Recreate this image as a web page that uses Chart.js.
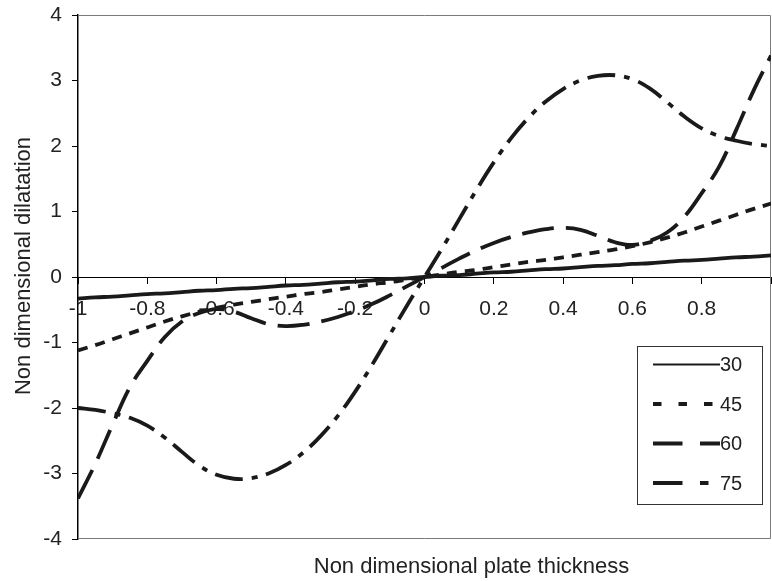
<!DOCTYPE html>
<html><head><meta charset="utf-8">
<script src="https://cdn.jsdelivr.net/npm/chart.js@4.4.1/dist/chart.umd.min.js"></script>
<style>html,body{margin:0;padding:0;background:#fff;overflow:hidden}#wrap{width:772px;height:581px;position:relative}</style>
</head><body><div id="wrap"><canvas id="c" width="772" height="581"></canvas></div>
<script>
// ---- data ----
const xValues = [-1,-0.95,-0.9,-0.85,-0.8,-0.75,-0.7,-0.65,-0.6,-0.55,-0.5,-0.45,-0.4,-0.35,-0.3,-0.25,-0.2,-0.15,-0.1,-0.05,0,
  0.05,0.1,0.15,0.2,0.25,0.3,0.35,0.4,0.45,0.5,0.55,0.6,0.65,0.7,0.75,0.8,0.85,0.9,0.95,1];
const seriesLabels = ['30','45','60','75'];
const s30 = [-0.33,-0.31,-0.30,-0.28,-0.26,-0.25,-0.23,-0.21,-0.20,-0.18,-0.17,-0.15,-0.13,-0.12,-0.10,-0.08,-0.07,-0.05,-0.03,-0.02,0,
  0.02,0.03,0.05,0.07,0.08,0.10,0.12,0.13,0.15,0.17,0.18,0.20,0.21,0.23,0.25,0.26,0.28,0.30,0.31,0.33];
const s45 = [-1.12,-1.04,-0.95,-0.86,-0.77,-0.68,-0.60,-0.53,-0.47,-0.42,-0.38,-0.34,-0.30,-0.26,-0.23,-0.19,-0.15,-0.11,-0.08,-0.04,0,
  0.04,0.08,0.11,0.15,0.19,0.23,0.26,0.30,0.34,0.38,0.42,0.47,0.53,0.60,0.68,0.77,0.86,0.95,1.04,1.12];
const s60 = [-3.38,-2.85,-2.25,-1.68,-1.28,-0.92,-0.68,-0.55,-0.49,-0.53,-0.63,-0.72,-0.75,-0.73,-0.68,-0.61,-0.52,-0.41,-0.28,-0.14,0,
  0.14,0.28,0.41,0.52,0.61,0.68,0.73,0.75,0.72,0.63,0.53,0.49,0.55,0.68,0.92,1.28,1.68,2.25,2.85,3.38];
const s75 = [-2.0,-2.03,-2.08,-2.15,-2.27,-2.45,-2.67,-2.88,-3.02,-3.08,-3.07,-3.0,-2.87,-2.68,-2.43,-2.12,-1.75,-1.33,-0.88,-0.43,0,
  0.43,0.88,1.33,1.75,2.12,2.43,2.68,2.87,3.0,3.07,3.08,3.02,2.88,2.67,2.45,2.27,2.15,2.08,2.03,2.0];
const xTickValues = [-1,-0.8,-0.6,-0.4,-0.2,0,0.2,0.4,0.6,0.8,1];
const xTickLabels = ['-1','-0.8','-0.6','-0.4','-0.2','0','0.2','0.4','0.6','0.8',''];
const yTickValues = [-4,-3,-2,-1,0,1,2,3,4];
const yTickLabels = ['-4','-3','-2','-1','0','1','2','3','4'];
const xTitle = 'Non dimensional plate thickness';
const yTitle = 'Non dimensional dilatation';

// ---- styles ----
const FONT = "'Liberation Sans', Arial, sans-serif";
const TXT = '#222';
const LINE = '#1a1a1a';
const chartDashes = [[], [10, 8], [32, 12], [28, 9, 6, 9]];
const legendDashes = [[], [8.5, 17], [29.5, 17.5], [29.5, 17.5, 8.5, 17.5]];
const legendWidths = [2, 4, 4, 4];
const allSeries = [s30, s45, s60, s75];

const datasets = allSeries.map((s, i) => ({
  label: seriesLabels[i],
  data: xValues.map((x, k) => ({x: x, y: s[k]})),
  borderColor: LINE,
  borderWidth: 3.8,
  borderDash: chartDashes[i],
  pointRadius: 0,
  tension: 0.4,
  fill: false,
  xAxisID: 'x',
  yAxisID: 'y'
}));

const framePlugin = {
  id: 'frame',
  afterLayout(chart) {
    // move the title-only scales so their titles sit where the reference has them
    const a = chart.chartArea;
    const t = chart.scales.x2;
    t.left = a.left + 94; t.right = a.right;
    const v = chart.scales.y2;
    v.top = a.top - 22; v.bottom = a.bottom;
  },
  beforeDatasetsDraw(chart) {
    const {ctx, chartArea: a} = chart;
    ctx.save();
    ctx.strokeStyle = '#7a7a7a';
    ctx.lineWidth = 1;
    ctx.beginPath();
    ctx.moveTo(a.left, a.top + 0.5);
    ctx.lineTo(a.right - 0.5, a.top + 0.5);
    ctx.lineTo(a.right - 0.5, a.bottom - 0.5);
    ctx.lineTo(a.left, a.bottom - 0.5);
    ctx.stroke();
    ctx.restore();
  },
  afterDraw(chart) {
    const ctx = chart.ctx;
    ctx.save();
    ctx.fillStyle = '#fff';
    ctx.fillRect(637.5, 346.5, 125, 158);
    ctx.strokeStyle = '#333';
    ctx.lineWidth = 1;
    ctx.strokeRect(637.5, 346.5, 125, 158);
    chart.data.datasets.forEach((ds, i) => {
      const y = 364.5 + i * 39.5;
      ctx.strokeStyle = LINE;
      ctx.lineWidth = legendWidths[i];
      ctx.lineCap = 'butt';
      ctx.setLineDash(legendDashes[i]);
      ctx.beginPath();
      ctx.moveTo(653, y);
      ctx.lineTo(720, y);
      ctx.stroke();
      ctx.setLineDash([]);
      ctx.fillStyle = TXT;
      ctx.font = '20px ' + FONT;
      ctx.textAlign = 'left';
      ctx.textBaseline = 'middle';
      ctx.fillText(ds.label, 720, y + 1);
    });
    ctx.restore();
  }
};

new Chart(document.getElementById('c'), {
  type: 'line',
  data: {datasets},
  plugins: [framePlugin],
  options: {
    responsive: false,
    animation: false,
    devicePixelRatio: 1,
    layout: {padding: {top: 15, right: 1, left: 0, bottom: 0}},
    plugins: {legend: {display: false}, tooltip: {enabled: false}, title: {display: false}},
    scales: {
      y2: {
        type: 'linear', axis: 'y', position: 'left', min: -4, max: 4, weight: 1,
        afterFit: s => { s.width = 37; s.paddingTop = 0; s.paddingBottom = 0; },
        ticks: {display: false},
        grid: {display: false},
        border: {display: false},
        title: {display: true, text: yTitle, color: TXT, font: {family: FONT, size: 22},
          padding: {top: 11, bottom: 0}}
      },
      y: {
        type: 'linear', position: 'left', min: -4, max: 4, weight: 0,
        afterFit: s => { s.width = 41; s.paddingTop = 0; s.paddingBottom = 0; },
        afterBuildTicks: s => { s.ticks = yTickValues.map(v => ({value: v})); },
        ticks: {color: TXT, font: {family: FONT, size: 21}, padding: 10,
          callback: (v, i) => yTickLabels[i]},
        grid: {drawOnChartArea: false, tickLength: 6, color: '#000'},
        border: {color: '#000', width: 1.5}
      },
      x: {
        type: 'linear', position: {y: 0}, min: -1, max: 1,
        afterFit: s => { s.height = 0; s.paddingLeft = 0; s.paddingRight = 0; },
        afterBuildTicks: s => { s.ticks = xTickValues.map(v => ({value: v})); },
        ticks: {color: TXT, font: {family: FONT, size: 21}, padding: 14, maxRotation: 0, autoSkip: false,
          callback: (v, i) => xTickLabels[i]},
        grid: {drawOnChartArea: false, tickLength: 6, color: '#000'},
        border: {color: '#000', width: 1}
      },
      x2: {
        type: 'linear', axis: 'x', position: 'bottom', min: -1, max: 1,
        afterFit: s => { s.height = 42; s.paddingLeft = 0; s.paddingRight = 0; },
        ticks: {display: false},
        grid: {display: false},
        border: {display: false},
        title: {display: true, text: xTitle, color: TXT, font: {family: FONT, size: 22},
          padding: {top: 0, bottom: 1}}
      }
    }
  }
});
</script>
</body></html>
